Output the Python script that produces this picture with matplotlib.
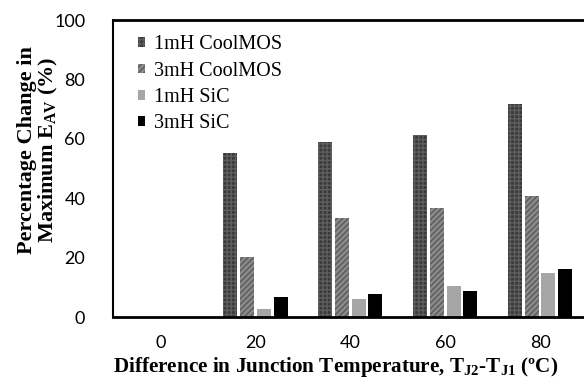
import matplotlib
matplotlib.use("Agg")
import matplotlib.pyplot as plt
import numpy as np

categories = ["0", "20", "40", "60", "80"]
series_names = ["1mH CoolMOS", "3mH CoolMOS", "1mH SiC", "3mH SiC"]
cool_1mH = [0, 55.1, 58.9, 61.2, 71.8]
cool_3mH = [0, 20.3, 33.2, 36.7, 40.9]
sic_1mH = [0, 2.6, 6.1, 10.6, 14.9]
sic_3mH = [0, 6.8, 7.6, 8.8, 16.0]
yticks = [0, 20, 40, 60, 80, 100]

plt.rcParams['hatch.linewidth'] = 1.0
plt.rcParams['mathtext.fontset'] = 'custom'
plt.rcParams['mathtext.rm'] = 'Liberation Serif'
plt.rcParams['mathtext.bf'] = 'Liberation Serif:bold'

fig = plt.figure(figsize=(5.84, 3.79), dpi=100)
ax = fig.add_axes([113/584, 62/379, 474.5/584, 297/379])

x = np.arange(len(categories))
step = 0.177
width = 0.148
styles = [
    dict(color='#3a3a3a', hatch='++++', edgecolor='#5e5e5e'),
    dict(color='#8a8a8a', hatch='//////', edgecolor='#5a5a5a'),
    dict(color='#a6a6a6', hatch=None, edgecolor='#a6a6a6'),
    dict(color='#000000', hatch=None, edgecolor='#000000'),
]
data = [cool_1mH, cool_3mH, sic_1mH, sic_3mH]
for i, (vals, name, st) in enumerate(zip(data, series_names, styles)):
    ax.bar(x + (i - 1.5) * step, vals, width, label=name,
           facecolor=st['color'], edgecolor=st['edgecolor'],
           hatch=st['hatch'], linewidth=0)

ax.set_xlim(-0.5, 4.5)
ax.set_ylim(0, 100)
ax.set_xticks(x)
ax.set_xticklabels(categories)
ax.set_yticks(yticks)
ax.tick_params(axis='both', length=0, labelsize=13)
ax.tick_params(axis='y', pad=20)
ax.tick_params(axis='x', pad=13)
for lab in ax.get_xticklabels() + ax.get_yticklabels():
    lab.set_fontfamily('Lato')

ax.spines['right'].set_visible(False)
ax.spines['top'].set_linewidth(2)
ax.spines['bottom'].set_linewidth(2)
ax.spines['left'].set_linewidth(1.5)

ax.set_xlabel("Difference in Junction Temperature, T$_{\\mathbf{J2}}$-T$_{\\mathbf{J1}}$ (ºC)",
              fontfamily='Liberation Serif', fontweight='bold', fontsize=15.2)
ax.xaxis.label.set_va('center')
ax.xaxis.set_label_coords(0.47, -0.168)

ax.set_ylabel("Percentage Change in\nMaximum E$_{\\mathbf{AV}}$ (%)",
              fontfamily='Liberation Serif', fontweight='bold', fontsize=16,
              linespacing=1.0)
ax.yaxis.label.set_va('center')
ax.yaxis.set_label_coords(-0.156, 0.562)

leg = ax.legend(loc='upper left', bbox_to_anchor=(0.035, 0.975), frameon=False,
                prop={'family': 'Liberation Serif', 'size': 14.5},
                handlelength=0.35, handleheight=0.35, handletextpad=0.45,
                labelspacing=0.36, borderaxespad=0)

fig.savefig("out.png", dpi=100)
